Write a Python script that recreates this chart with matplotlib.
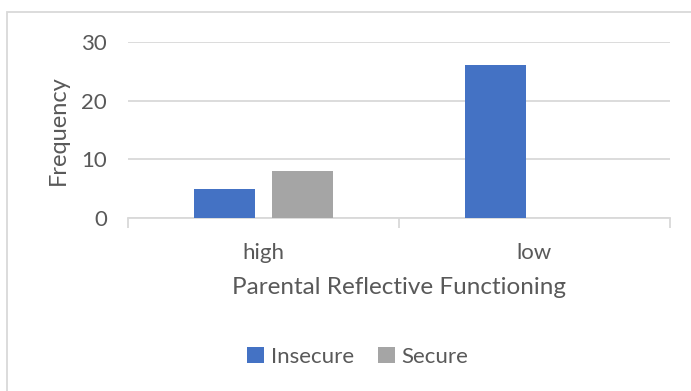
import matplotlib
matplotlib.use('Agg')
import matplotlib.pyplot as plt
import numpy as np
from matplotlib.patches import Rectangle

plt.rcParams['font.family'] = ['Lato', 'DejaVu Sans']

categories = ['high', 'low']
insecure = [5, 26]
secure = [8, 0]
series_names = ['Insecure', 'Secure']

txt = '#595959'
grid = '#d9d9d9'

fig = plt.figure(figsize=(6.91, 3.91), dpi=100)
ax = fig.add_axes([128/691, 1 - 218/391, 542/691, 176/391])

x = np.arange(len(categories))
w = 0.225
off = 0.144
ax.bar(x - off, insecure, w, color='#4472C4', label=series_names[0], zorder=3)
ax.bar(x + off, secure, w, color='#A5A5A5', label=series_names[1], zorder=3)

ax.set_xlim(-0.5, len(categories) - 0.5)
ax.set_ylim(0, 30)
ax.set_yticks([0, 10, 20, 30])
ax.yaxis.grid(True, color=grid, linewidth=1.3, zorder=0)
ax.set_axisbelow(True)

for s in ['top', 'right', 'left']:
    ax.spines[s].set_visible(False)
ax.spines['bottom'].set_color(grid)
ax.spines['bottom'].set_linewidth(1.3)

# category labels without ticks, boundary ticks as minor
ax.set_xticks(x)
ax.set_xticklabels(categories)
ax.set_xticks(np.arange(-0.5, len(categories)), minor=True)
ax.tick_params(axis='x', which='major', length=0, pad=18, labelsize=16, labelcolor=txt)
ax.tick_params(axis='x', which='minor', length=7, width=1.3, color=grid)
ax.tick_params(axis='y', length=0, pad=15, labelsize=16, labelcolor=txt)

ax.set_ylabel('Frequency', fontsize=17, color=txt, labelpad=9)
ax.set_xlabel('Parental Reflective Functioning', fontsize=17.5, color=txt, labelpad=10)

leg = fig.legend(loc='center', bbox_to_anchor=(358/691, 1 - 357/391), ncol=2,
                 frameon=False, fontsize=16, handlelength=0.75, handleheight=0.75,
                 handletextpad=0.3, columnspacing=1.1)
for t in leg.get_texts():
    t.set_color(txt)

# chart border
fig.patches.append(Rectangle((7/691, -0.1), 1.2, 1.1 - 12/391, transform=fig.transFigure,
                             fill=False, edgecolor=grid, linewidth=1.3))

fig.savefig('out.png', dpi=100)
